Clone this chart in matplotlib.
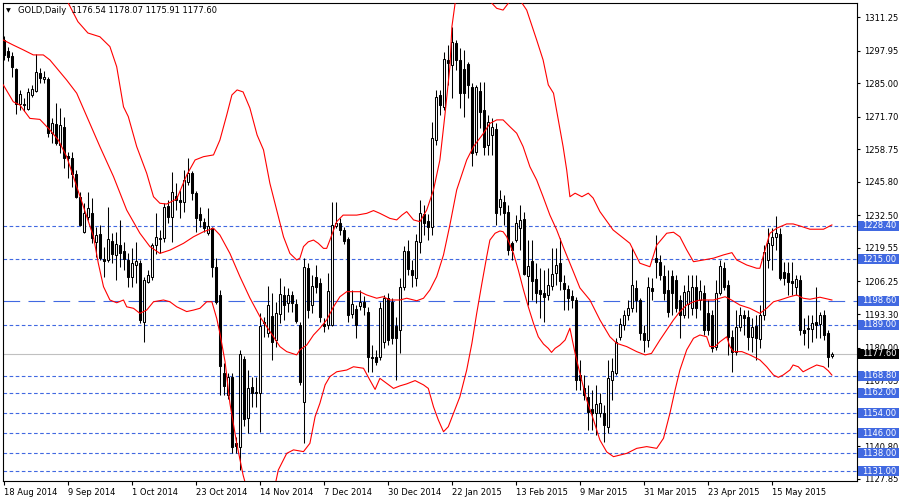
import numpy as np
import matplotlib
matplotlib.use("Agg")
import matplotlib.pyplot as plt
import matplotlib.transforms as mtransforms
from matplotlib.patches import Rectangle

# GOLD daily candles (one entry per bar)
opens = [
    1302.1, 1297.9, 1295.8, 1290.5, 1276.6, 1276.7, 1274.9, 1280.4, 1282.0, 1289.1,
    1286.8, 1286.5, 1265.3, 1268.8, 1260.6, 1267.7, 1256.1, 1255.2, 1248.9, 1239.9,
    1226.0, 1232.0, 1233.6, 1222.0, 1225.1, 1215.1, 1214.8, 1222.5, 1216.8, 1220.7,
    1218.5, 1214.8, 1207.9, 1212.7, 1213.5, 1190.3, 1206.2, 1208.2, 1220.7, 1223.0,
    1223.4, 1236.2, 1232.0, 1240.2, 1238.6, 1237.9, 1245.9, 1249.2, 1241.3, 1232.9,
    1230.0, 1225.4, 1227.4, 1212.1, 1200.9, 1170.0, 1161.2, 1168.4, 1142.0, 1140.7,
    1175.4, 1151.9, 1164.2, 1162.3, 1162.1, 1190.3, 1185.9, 1192.6, 1183.0, 1193.2,
    1200.9, 1197.8, 1200.9, 1197.3, 1189.0, 1158.5, 1211.5, 1196.9, 1208.2, 1205.5,
    1189.4, 1189.0, 1189.0, 1228.3, 1229.6, 1226.7, 1223.0, 1193.2, 1195.3, 1196.5,
    1198.2, 1194.1, 1176.4, 1176.4, 1176.4, 1182.3, 1199.6, 1198.2, 1188.6, 1187.0,
    1204.2, 1218.4, 1210.8, 1207.5, 1222.0, 1233.2, 1230.3, 1228.0, 1262.4, 1280.3,
    1275.6, 1294.2, 1292.2, 1300.8, 1294.2, 1290.5, 1292.6, 1283.6, 1257.8, 1282.0,
    1274.3, 1260.4, 1264.4, 1266.7, 1235.9, 1237.9, 1234.0, 1221.4, 1222.7, 1227.4,
    1231.0, 1208.4, 1214.4, 1207.1, 1202.9, 1201.6, 1200.9, 1204.5, 1209.5, 1213.7,
    1205.8, 1203.2, 1200.5, 1198.9, 1169.1, 1163.8, 1160.5, 1155.5, 1153.9, 1153.9,
    1153.9, 1148.6, 1167.1, 1170.0, 1184.1, 1189.0, 1193.0, 1195.6, 1203.6, 1198.9,
    1185.7, 1183.0, 1203.6, 1215.7, 1214.1, 1208.4, 1202.9, 1208.4, 1206.8, 1198.9,
    1193.0, 1197.3, 1195.6, 1203.9, 1198.9, 1201.8, 1193.6, 1193.0, 1180.4, 1201.8,
    1211.5, 1204.9, 1184.3, 1178.4, 1188.1, 1193.0, 1192.0, 1184.1, 1188.6, 1183.3,
    1193.0, 1214.8, 1220.7, 1223.8, 1225.1, 1210.1, 1209.5, 1206.4, 1204.0, 1206.8,
    1187.0, 1187.3, 1187.3, 1190.3, 1189.4, 1193.0, 1185.7, 1176.54,
]
highs = [
    1303.7, 1299.5, 1297.5, 1291.0, 1282.3, 1279.0, 1283.0, 1284.3, 1296.4, 1291.0,
    1290.0, 1287.5, 1271.2, 1277.1, 1275.1, 1271.6, 1257.8, 1257.8, 1250.5, 1241.9,
    1237.4, 1241.9, 1239.4, 1228.0, 1228.8, 1220.1, 1235.9, 1225.5, 1226.0, 1230.7,
    1222.0, 1217.6, 1219.5, 1222.0, 1214.8, 1208.2, 1210.8, 1221.5, 1233.4, 1226.7,
    1237.4, 1238.5, 1249.8, 1245.3, 1242.6, 1250.5, 1255.2, 1250.0, 1242.0, 1235.9,
    1231.5, 1235.4, 1228.0, 1215.5, 1203.0, 1173.8, 1170.0, 1169.9, 1144.6, 1179.1,
    1176.5, 1171.1, 1168.4, 1168.4, 1193.6, 1192.3, 1204.5, 1201.6, 1198.2, 1207.8,
    1204.5, 1203.6, 1202.5, 1199.2, 1190.3, 1215.5, 1213.5, 1209.0, 1212.7, 1207.6,
    1191.6, 1209.5, 1237.9, 1237.9, 1231.5, 1228.0, 1224.0, 1202.9, 1197.0, 1202.9,
    1200.5, 1196.0, 1181.0, 1179.0, 1198.2, 1201.0, 1201.7, 1199.5, 1192.3, 1207.5,
    1220.3, 1222.7, 1214.8, 1225.0, 1238.6, 1236.6, 1233.0, 1269.6, 1282.3, 1282.3,
    1297.4, 1300.1, 1307.3, 1302.1, 1299.0, 1298.0, 1293.4, 1285.0, 1284.3, 1285.4,
    1285.4, 1272.3, 1271.2, 1269.2, 1242.6, 1240.6, 1236.6, 1222.5, 1232.6, 1236.6,
    1233.8, 1222.7, 1222.7, 1213.6, 1211.6, 1210.8, 1211.6, 1219.5, 1219.5, 1223.5,
    1208.8, 1204.9, 1202.9, 1200.1, 1175.1, 1169.1, 1165.2, 1163.2, 1165.2, 1162.0,
    1157.2, 1175.1, 1175.9, 1183.8, 1191.8, 1194.9, 1198.9, 1219.5, 1206.8, 1199.7,
    1189.0, 1208.0, 1207.6, 1224.7, 1216.8, 1212.8, 1210.8, 1210.8, 1208.8, 1200.9,
    1204.9, 1208.8, 1208.8, 1208.8, 1206.8, 1204.9, 1198.9, 1194.9, 1206.8, 1214.8,
    1214.0, 1206.8, 1187.0, 1194.9, 1196.0, 1194.9, 1194.9, 1191.8, 1193.0, 1196.9,
    1220.7, 1227.5, 1227.5, 1232.2, 1227.5, 1214.0, 1214.0, 1214.0, 1208.8, 1208.8,
    1191.8, 1193.0, 1193.0, 1204.1, 1194.1, 1194.9, 1187.0, 1178.07,
]
lows = [
    1294.2, 1293.8, 1287.5, 1272.7, 1274.3, 1274.0, 1274.5, 1279.6, 1281.5, 1285.0,
    1285.0, 1263.7, 1261.2, 1260.4, 1257.3, 1251.3, 1247.3, 1243.9, 1239.4, 1228.3,
    1225.5, 1230.7, 1221.5, 1216.1, 1214.8, 1208.2, 1214.0, 1213.6, 1206.8, 1212.1,
    1210.8, 1204.2, 1204.2, 1205.6, 1189.8, 1182.3, 1205.6, 1206.8, 1217.0, 1217.6,
    1222.0, 1229.5, 1222.0, 1234.6, 1231.5, 1234.0, 1244.6, 1238.6, 1226.0, 1228.0,
    1226.0, 1224.7, 1208.2, 1197.5, 1161.2, 1161.2, 1159.7, 1138.2, 1138.2, 1131.4,
    1148.7, 1146.0, 1156.5, 1156.5, 1146.6, 1184.3, 1184.3, 1175.1, 1180.4, 1189.6,
    1191.1, 1194.0, 1194.0, 1189.6, 1165.2, 1142.0, 1191.6, 1193.6, 1201.6, 1190.3,
    1186.3, 1187.4, 1188.6, 1227.4, 1224.7, 1221.0, 1190.3, 1191.8, 1183.8, 1195.0,
    1193.0, 1170.4, 1170.4, 1173.0, 1175.0, 1179.8, 1181.0, 1181.5, 1167.1, 1177.7,
    1202.9, 1208.8, 1204.2, 1204.5, 1217.6, 1224.7, 1222.7, 1224.7, 1260.4, 1272.3,
    1274.3, 1284.3, 1279.1, 1290.2, 1275.1, 1271.7, 1279.1, 1252.1, 1256.5, 1267.2,
    1256.5, 1256.5, 1256.5, 1228.7, 1232.6, 1228.7, 1216.8, 1214.8, 1221.9, 1218.7,
    1208.8, 1197.0, 1198.9, 1197.7, 1191.7, 1190.2, 1198.9, 1202.9, 1204.9, 1202.9,
    1194.9, 1194.9, 1195.7, 1163.2, 1163.2, 1159.2, 1147.3, 1147.3, 1145.3, 1152.5,
    1142.5, 1146.1, 1159.2, 1169.1, 1183.0, 1187.0, 1191.0, 1194.0, 1194.0, 1183.0,
    1178.3, 1180.2, 1198.9, 1207.6, 1206.8, 1198.9, 1192.2, 1193.0, 1194.0, 1183.8,
    1191.8, 1191.8, 1193.0, 1191.8, 1194.9, 1185.0, 1185.0, 1178.3, 1179.0, 1200.9,
    1202.9, 1177.1, 1170.3, 1177.1, 1186.5, 1185.0, 1179.0, 1178.3, 1175.1, 1179.8,
    1191.0, 1211.6, 1210.8, 1218.7, 1206.8, 1204.9, 1200.9, 1200.9, 1200.9, 1185.0,
    1181.0, 1179.8, 1182.3, 1183.8, 1183.8, 1183.0, 1172.3, 1175.91,
]
closes = [
    1296.0, 1295.2, 1291.5, 1276.7, 1280.7, 1276.3, 1281.5, 1282.5, 1289.4, 1286.9,
    1287.5, 1265.1, 1269.2, 1261.4, 1268.5, 1255.2, 1255.2, 1248.9, 1239.9, 1228.7,
    1233.4, 1235.5, 1223.4, 1224.7, 1215.7, 1214.5, 1223.0, 1217.2, 1221.0, 1217.7,
    1215.1, 1207.9, 1213.7, 1214.5, 1191.0, 1206.8, 1208.8, 1220.7, 1224.0, 1223.4,
    1235.9, 1232.0, 1241.9, 1238.6, 1237.9, 1246.5, 1249.2, 1241.3, 1231.3, 1230.7,
    1227.4, 1228.3, 1212.1, 1198.2, 1172.7, 1164.8, 1168.4, 1140.7, 1140.9, 1177.5,
    1151.5, 1163.8, 1162.1, 1161.9, 1188.6, 1189.6, 1196.9, 1182.3, 1193.6, 1201.2,
    1196.9, 1200.9, 1197.6, 1190.7, 1166.5, 1211.9, 1194.9, 1204.5, 1204.2, 1192.0,
    1188.6, 1202.5, 1228.7, 1229.6, 1226.7, 1222.4, 1192.9, 1197.3, 1189.0, 1198.2,
    1196.1, 1176.2, 1175.8, 1174.4, 1195.7, 1199.6, 1183.0, 1183.7, 1183.7, 1204.2,
    1218.4, 1211.1, 1208.8, 1222.4, 1233.6, 1229.6, 1228.0, 1263.1, 1279.6, 1276.3,
    1294.5, 1292.9, 1301.4, 1294.2, 1281.0, 1281.0, 1284.3, 1257.1, 1283.3, 1273.7,
    1259.8, 1269.7, 1267.7, 1233.6, 1238.9, 1233.3, 1218.7, 1218.7, 1229.4, 1230.7,
    1209.2, 1212.4, 1206.6, 1201.8, 1201.3, 1200.0, 1204.9, 1209.2, 1212.8, 1206.6,
    1203.2, 1199.6, 1198.9, 1167.1, 1167.1, 1161.2, 1154.6, 1153.9, 1157.6, 1157.9,
    1149.3, 1167.8, 1170.8, 1182.3, 1189.4, 1193.0, 1195.6, 1204.9, 1198.9, 1185.7,
    1183.0, 1203.9, 1202.6, 1214.1, 1208.8, 1201.8, 1194.3, 1201.6, 1195.6, 1193.0,
    1202.2, 1202.6, 1203.9, 1195.6, 1202.6, 1187.0, 1187.0, 1179.7, 1201.8, 1212.4,
    1204.2, 1184.3, 1178.4, 1188.1, 1193.0, 1191.6, 1184.1, 1188.3, 1183.7, 1193.0,
    1218.1, 1221.4, 1224.0, 1225.4, 1207.5, 1207.5, 1206.2, 1205.8, 1207.1, 1187.0,
    1185.7, 1187.9, 1189.9, 1189.0, 1193.0, 1185.0, 1176.4, 1177.60,
]

# Bollinger bands as (bar position, price)
upper_band = [
    (-0.1, 1322.8), (9.1, 1323.6), (14.1, 1320.4), (15.8, 1318.0), (18.6, 1309.4),
    (21.1, 1304.9), (24.1, 1303.4), (26.6, 1299.5), (28.3, 1291.5), (30.0, 1275.6),
    (31.2, 1271.7), (33.3, 1259.8), (35.8, 1249.2), (37.5, 1239.9), (39.1, 1237.3),
    (40.8, 1237.0), (43.3, 1239.0), (45.8, 1248.5), (47.9, 1254.5), (50.0, 1255.8),
    (52.5, 1256.5), (54.1, 1262.4), (55.8, 1272.3), (57.1, 1280.3), (58.4, 1282.3),
    (59.9, 1281.5), (61.6, 1275.1), (63.4, 1264.4), (65.0, 1258.5), (66.6, 1245.2),
    (68.3, 1234.6), (70.0, 1224.0), (71.6, 1217.4), (73.3, 1214.8), (74.1, 1215.5),
    (75.0, 1220.1), (76.2, 1222.0), (77.5, 1222.7), (78.7, 1221.4), (80.0, 1219.4),
    (80.8, 1219.4), (81.6, 1222.7), (83.3, 1230.0), (84.9, 1232.6), (88.3, 1232.6),
    (90.8, 1233.3), (92.5, 1234.4), (94.1, 1233.3), (96.6, 1231.3), (98.3, 1230.7),
    (99.6, 1232.6), (100.8, 1234.0), (102.5, 1230.7), (104.1, 1230.0), (105.8, 1234.6),
    (107.5, 1242.6), (109.1, 1254.5), (110.4, 1273.0), (111.6, 1291.5), (112.1, 1307.4),
    (112.9, 1316.7), (114.1, 1324.0), (116.6, 1327.9), (119.1, 1324.0), (122.1, 1316.7),
    (123.3, 1314.7), (124.9, 1314.0), (126.2, 1316.7), (127.4, 1319.2), (129.1, 1318.0),
    (130.8, 1314.0), (133.3, 1302.1), (134.9, 1294.2), (136.2, 1284.3), (137.5, 1281.0),
    (138.7, 1270.4), (139.9, 1259.8), (140.8, 1250.5), (141.6, 1239.9), (142.9, 1241.3),
    (144.6, 1239.9), (146.2, 1241.3), (147.4, 1239.4), (149.1, 1234.0), (152.4, 1226.7),
    (156.6, 1221.4), (159.1, 1213.5), (161.6, 1212.1), (163.3, 1220.7), (165.8, 1225.4),
    (167.5, 1225.8), (169.1, 1224.0), (170.8, 1218.8), (172.5, 1214.1), (175.0, 1214.8),
    (177.5, 1215.5), (180.0, 1216.8), (182.1, 1217.7), (183.3, 1214.8), (185.8, 1212.8),
    (188.3, 1211.5), (189.1, 1211.5), (189.9, 1216.1), (191.6, 1225.4), (193.3, 1227.4),
    (195.8, 1229.1), (197.4, 1229.1), (199.1, 1228.3), (201.6, 1227.0), (205.0, 1227.0),
    (207.1, 1228.7),
]
middle_band = [
    (-0.05, 1302.1), (2.45, 1300.1), (4.95, 1298.2), (7.45, 1296.2), (9.95, 1296.2),
    (11.6, 1294.2), (13.7, 1290.2), (15.8, 1286.2), (18.3, 1281.0), (21.2, 1270.4),
    (24.1, 1259.8), (27.5, 1247.9), (30.8, 1234.6), (34.1, 1225.4), (36.6, 1220.1),
    (39.1, 1217.4), (41.6, 1218.7), (45.0, 1221.4), (47.5, 1224.0), (50.0, 1226.0),
    (52.5, 1227.4), (54.1, 1224.7), (56.6, 1217.4), (59.1, 1208.2), (61.6, 1199.7),
    (64.1, 1192.3), (67.5, 1184.3), (69.1, 1180.4), (70.8, 1178.4), (73.3, 1177.1),
    (74.1, 1179.1), (75.8, 1181.0), (77.5, 1185.0), (79.1, 1187.7), (80.8, 1191.0),
    (82.5, 1196.2), (84.1, 1200.2), (85.8, 1202.2), (89.1, 1202.2), (90.8, 1200.9),
    (93.3, 1199.6), (94.9, 1200.2), (96.6, 1198.9), (99.1, 1198.9), (100.8, 1199.6),
    (103.3, 1198.6), (105.0, 1199.6), (106.6, 1202.9), (108.3, 1208.2), (110.0, 1216.8),
    (111.6, 1228.7), (113.3, 1242.6), (115.8, 1254.5), (117.5, 1259.8), (120.0, 1265.1),
    (121.6, 1269.0), (123.3, 1270.4), (124.9, 1270.4), (126.6, 1267.7), (128.3, 1265.1),
    (129.9, 1259.8), (131.6, 1251.8), (133.3, 1246.5), (134.9, 1239.9), (136.6, 1232.6),
    (138.3, 1226.7), (139.9, 1220.1), (142.5, 1210.0), (144.1, 1203.7), (146.6, 1198.9),
    (149.1, 1191.0), (151.6, 1184.3), (153.3, 1181.7), (155.8, 1180.4), (158.3, 1178.4),
    (160.4, 1177.1), (162.0, 1177.7), (164.1, 1183.0), (165.8, 1187.0), (167.5, 1191.0),
    (169.1, 1194.3), (170.8, 1196.9), (172.5, 1198.2), (174.1, 1198.9), (177.5, 1198.9),
    (179.1, 1199.6), (180.4, 1200.2), (182.0, 1198.9), (184.1, 1196.9), (186.6, 1195.6),
    (189.1, 1193.6), (190.8, 1195.6), (192.5, 1198.2), (194.1, 1198.9), (196.6, 1200.2),
    (198.3, 1200.9), (199.9, 1199.6), (201.6, 1199.2), (204.1, 1200.0), (207.1, 1198.9),
]
lower_band = [
    (-0.05, 1284.3), (2.45, 1277.6), (4.1, 1276.3), (6.6, 1271.0), (9.1, 1270.6),
    (11.6, 1266.4), (13.7, 1262.4), (15.8, 1255.8), (18.3, 1243.9), (20.8, 1232.0),
    (22.5, 1224.0), (23.7, 1213.5), (25.0, 1204.2), (26.6, 1198.9), (28.3, 1197.8),
    (30.0, 1198.9), (30.8, 1196.2), (32.5, 1195.6), (34.1, 1193.6), (35.8, 1194.9),
    (37.5, 1198.2), (40.0, 1198.9), (41.6, 1198.2), (43.3, 1196.2), (45.8, 1194.3),
    (47.5, 1194.9), (49.1, 1195.6), (50.8, 1198.2), (52.1, 1198.2), (53.3, 1191.6),
    (54.1, 1185.7), (55.4, 1174.3), (56.6, 1157.9), (58.3, 1142.0), (59.9, 1129.4),
    (61.6, 1119.5), (64.6, 1113.5), (67.1, 1119.5), (68.7, 1131.4), (70.8, 1138.0),
    (72.5, 1139.4), (75.0, 1138.7), (76.6, 1142.0), (77.9, 1152.6), (79.1, 1157.9),
    (80.4, 1165.2), (81.6, 1168.5), (83.3, 1170.4), (85.8, 1171.1), (87.5, 1172.4),
    (90.0, 1171.8), (91.6, 1167.1), (92.9, 1163.4), (94.1, 1167.8), (95.8, 1165.8),
    (97.5, 1163.8), (99.1, 1164.8), (100.8, 1165.6), (102.9, 1166.9), (105.0, 1165.2),
    (106.2, 1163.8), (107.5, 1156.5), (108.7, 1151.3), (110.0, 1146.6), (111.2, 1148.6),
    (112.5, 1153.9), (114.1, 1160.5), (115.8, 1171.1), (117.1, 1181.7), (118.3, 1193.6),
    (119.6, 1205.5), (120.8, 1216.1), (121.6, 1222.7), (122.9, 1225.4), (124.1, 1226.3),
    (124.9, 1226.0), (125.8, 1224.0), (127.5, 1217.4), (128.7, 1210.8), (130.0, 1202.9),
    (131.2, 1196.2), (132.5, 1189.6), (133.7, 1184.3), (135.0, 1181.4), (136.2, 1179.7),
    (137.0, 1178.1), (137.9, 1179.7), (139.1, 1181.0), (140.4, 1183.0), (141.6, 1187.7),
    (142.9, 1177.7), (144.1, 1169.8), (145.8, 1159.2), (147.5, 1151.3), (149.1, 1143.3),
    (150.8, 1138.6), (152.5, 1136.7), (155.8, 1138.0), (158.3, 1140.0), (160.8, 1140.7),
    (163.3, 1140.0), (165.0, 1144.0), (166.6, 1153.9), (167.9, 1163.2), (169.1, 1171.1),
    (170.8, 1179.1), (172.5, 1183.7), (174.1, 1185.0), (175.8, 1184.3), (176.6, 1180.4),
    (177.9, 1180.4), (179.1, 1182.3), (180.8, 1184.3), (181.6, 1180.4), (182.5, 1178.4),
    (184.6, 1178.4), (186.6, 1177.1), (189.1, 1175.1), (190.8, 1172.4), (192.5, 1169.1),
    (193.7, 1168.2), (194.9, 1169.1), (196.6, 1171.1), (197.4, 1173.1), (198.7, 1172.4),
    (199.9, 1170.4), (201.6, 1171.8), (203.3, 1173.1), (205.0, 1172.4), (206.2, 1170.8),
    (207.1, 1169.1),
]

date_labels = ['18 Aug 2014', '9 Sep 2014', '1 Oct 2014', '23 Oct 2014', '14 Nov 2014',
               '7 Dec 2014', '30 Dec 2014', '22 Jan 2015', '13 Feb 2015', '9 Mar 2015',
               '31 Mar 2015', '23 Apr 2015', '15 May 2015']
price_ticks = [1311.25, 1297.95, 1285.00, 1271.70, 1258.75, 1245.80, 1232.50, 1219.55,
               1206.25, 1193.30, 1180.00, 1167.05, 1153.75, 1140.80, 1127.85]
dotted_levels = [1228.40, 1215.00, 1189.00, 1168.80, 1162.00, 1154.00, 1146.00, 1138.00, 1131.00]
pivot_level = 1198.60
bid_price = 1177.60
header = 'GOLD,Daily  1176.54 1178.07 1175.91 1177.60'

BLUE = '#4169e1'

plt.rcParams['font.family'] = ['DejaVu Sans']
plt.rcParams['font.size'] = 6
plt.rcParams['lines.scale_dashes'] = False

fig = plt.figure(figsize=(9, 5), dpi=100)
ax = fig.add_axes([3 / 900, 19 / 500, 854 / 900, 478 / 500])
ax.set_xlim(-0.125, 213.375)
ax.set_ylim(1127.04, 1316.81)

# horizontal levels
ax.axhline(bid_price, color='#c0c0c0', lw=0.8, zorder=1)
for lv in dotted_levels:
    ax.axhline(lv, color=BLUE, lw=0.8, linestyle=(0, (2.6, 1.8)), zorder=2)
ax.axhline(pivot_level, color=BLUE, lw=0.8, linestyle=(0, (12, 6)), zorder=2)

# candles
o = np.array(opens)
h = np.array(highs)
l = np.array(lows)
c = np.array(closes)
x = np.arange(len(o))
bull = c >= o
bottom = np.minimum(o, c)
height = np.maximum(np.abs(c - o), 0.25)
ax.vlines(x, l, h, color='black', linewidth=0.75, zorder=3)
ax.bar(x[bull], height[bull], 0.5, bottom[bull], facecolor='white',
       edgecolor='black', linewidth=0.75, zorder=4)
ax.bar(x[~bull], height[~bull], 0.5, bottom[~bull], facecolor='black',
       edgecolor='black', linewidth=0.75, zorder=4)

# bollinger bands
for band in (upper_band, middle_band, lower_band):
    pos, val = zip(*band)
    ax.plot(pos, val, color='#ff0000', lw=0.8, zorder=5)

# axes styling
for sp in ax.spines.values():
    sp.set_linewidth(0.8)
    sp.set_color('black')
ax.yaxis.tick_right()
ax.set_yticks(price_ticks)
ax.set_yticklabels([f'{v:.2f}' for v in price_ticks])
ax.tick_params(axis='y', direction='out', length=2, width=0.8, pad=3, labelsize=6)
ax.set_xticks(np.arange(len(date_labels)) * 16)
ax.set_xticklabels(date_labels, ha='left')
ax.tick_params(axis='x', direction='out', length=3, width=0.8, pad=2, labelsize=6)

# price labels on the right axis
trans = mtransforms.blended_transform_factory(ax.transAxes, ax.transData)
px_per_unit = 478 / (1316.81 - 1127.04)
box_h = 10 / px_per_unit
for lv, fc in [(v, BLUE) for v in dotted_levels + [pivot_level]] + [(bid_price, 'black')]:
    ax.add_patch(Rectangle((1 + 1 / 854, lv - box_h / 2), 41 / 854, box_h, transform=trans,
                           facecolor=fc, edgecolor='none', clip_on=False, zorder=10))
    ax.text(1 + 5.5 / 854, lv, f'{lv:.2f}', transform=trans, color='white', fontsize=6,
            ha='left', va='center', clip_on=False, zorder=11)

# header
fig.text(6 / 900, 1 - 10.5 / 500, '\u25bc', fontsize=4.5, va='center')
fig.text(18 / 900, 1 - 10.5 / 500, header, fontsize=6, va='center')

fig.savefig('out.png', dpi=100)
